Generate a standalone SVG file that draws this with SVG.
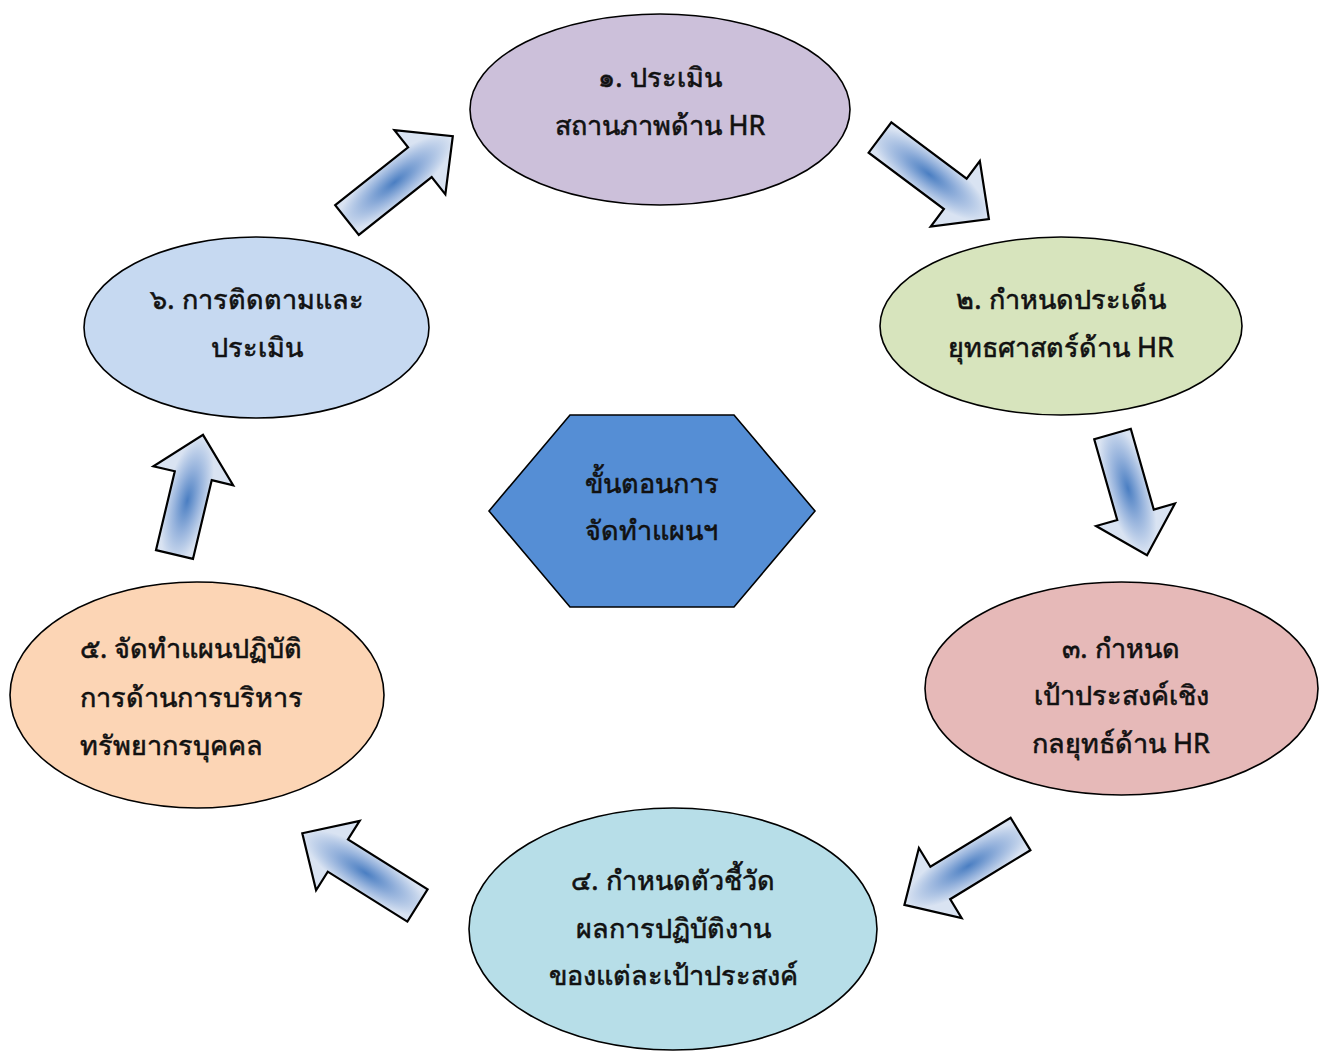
<svg xmlns="http://www.w3.org/2000/svg" width="1322" height="1051" viewBox="0 0 1322 1051">
<defs>
<radialGradient id="ag" cx="0.45" cy="0.5" r="0.5" gradientTransform="translate(0.45 0.5) scale(1.05 0.55) translate(-0.45 -0.5)">
<stop offset="0" stop-color="#4a7ec2"/>
<stop offset="0.5" stop-color="#95b2dc"/>
<stop offset="1" stop-color="#d9e3f2"/>
</radialGradient>
<style>
.node{stroke:#000;stroke-width:1.6}
.arr{fill:url(#ag);stroke:#000;stroke-width:2.2;stroke-linejoin:miter}
text{font-family:"Noto Sans","DejaVu Sans",sans-serif;font-size:27px;fill:#111;stroke:#111;stroke-width:0.6}
.c{text-anchor:middle}
</style>
</defs>
<rect width="1322" height="1051" fill="#fff"/>
<g id="connectors">
<path class="arr" transform="translate(347 220) rotate(-38.4)" d="M0,-19 H93 V-41 L135,0 L93,41 V19 H0 Z"/>
<path class="arr" transform="translate(880 137.5) rotate(36.8)" d="M0,-19 H94 V-41 L136,0 L94,41 V19 H0 Z"/>
<path class="arr" transform="translate(1112.5 434) rotate(74.1)" d="M0,-19 H84 V-41 L126,0 L84,41 V19 H0 Z"/>
<path class="arr" transform="translate(1020.5 834) rotate(148.6)" d="M0,-19 H94 V-41 L136,0 L94,41 V19 H0 Z"/>
<path class="arr" transform="translate(417.5 905.5) rotate(-147.9)" d="M0,-19 H94 V-41 L136,0 L94,41 V19 H0 Z"/>
<path class="arr" transform="translate(174.5 554.5) rotate(-76.6)" d="M0,-19 H81 V-41 L123,0 L81,41 V19 H0 Z"/>
</g>
<g id="node1">
<ellipse class="node" cx="660" cy="109.5" rx="190" ry="95.5" fill="#ccc0da"/>
<text class="c" x="660" y="87">๑. ประเมิน</text>
<text class="c" x="660" y="135">สถานภาพด้าน HR</text>
</g>
<g id="node2">
<ellipse class="node" cx="1061" cy="326" rx="181" ry="89" fill="#d7e4bd"/>
<text class="c" x="1061" y="309">๒. กำหนดประเด็น</text>
<text class="c" x="1061" y="357">ยุทธศาสตร์ด้าน HR</text>
</g>
<g id="node3">
<ellipse class="node" cx="1121.5" cy="688.5" rx="196.5" ry="106.5" fill="#e6b9b8"/>
<text class="c" x="1121" y="658">๓. กำหนด</text>
<text class="c" x="1121" y="705">เป้าประสงค์เชิง</text>
<text class="c" x="1121" y="753">กลยุทธ์ด้าน HR</text>
</g>
<g id="node4">
<ellipse class="node" cx="673" cy="929" rx="204" ry="121" fill="#b7dee8"/>
<text class="c" x="673" y="890">๔. กำหนดตัวชี้วัด</text>
<text class="c" x="673" y="938">ผลการปฏิบัติงาน</text>
<text class="c" x="673" y="985">ของแต่ละเป้าประสงค์</text>
</g>
<g id="node5">
<ellipse class="node" cx="197" cy="695" rx="187" ry="113" fill="#fcd5b5"/>
<text x="80" y="658">๕. จัดทำแผนปฏิบัติ</text>
<text x="80" y="707">การด้านการบริหาร</text>
<text x="80" y="755">ทรัพยากรบุคคล</text>
</g>
<g id="node6">
<ellipse class="node" cx="256.5" cy="327.5" rx="172.5" ry="90.5" fill="#c6d9f1"/>
<text class="c" x="257" y="309">๖. การติดตามและ</text>
<text class="c" x="257" y="357">ประเมิน</text>
</g>
<g id="center">
<polygon class="node" points="570,415 734,415 815,511 734,607 570,607 489,511" fill="#558ed5"/>
<text x="585" y="493">ขั้นตอนการ</text>
<text x="585" y="540">จัดทำแผนฯ</text>
</g>
</svg>
